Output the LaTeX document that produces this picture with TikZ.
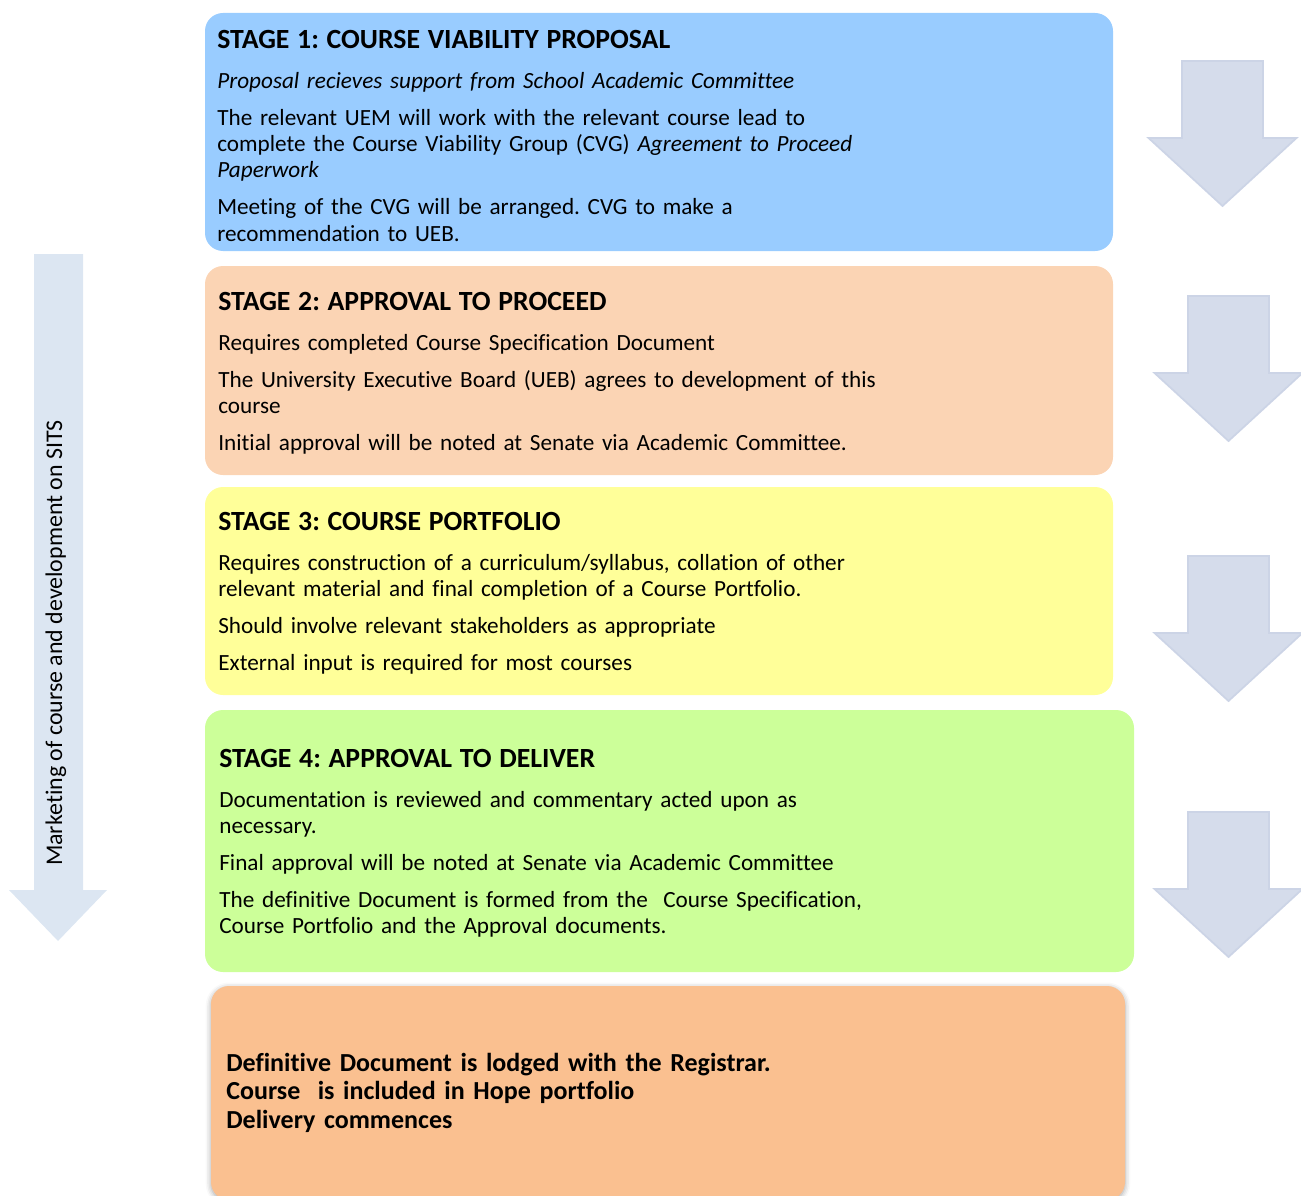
\documentclass[tikz,border=0pt]{standalone}
\usepackage{fontspec}
\setmainfont[Ligatures=CommonOff]{Carlito}
\usetikzlibrary{shadows.blur}

\definecolor{stageblue}{HTML}{99CCFF}
\definecolor{stagepeach}{HTML}{FBD4B4}
\definecolor{stageyellow}{HTML}{FFFF99}
\definecolor{stagegreen}{HTML}{CCFF99}
\definecolor{stageorange}{HTML}{FAC090}
\definecolor{flowarrow}{HTML}{D5DCEB}
\definecolor{flowedge}{HTML}{CCD4E6}
\definecolor{sidearrow}{HTML}{DCE6F2}

\frenchspacing
\newcommand{\stagehead}[1]{{\fontsize{15.8}{15}\selectfont\bfseries #1}\par\vspace{7.7pt}}
\newcommand{\stagegap}{\par\vspace{6pt}}

\tikzset{
	stagebox/.style={rounded corners=0.36cm},
	stagetext/.style={anchor=base west,inner sep=0pt,text width=18cm,align=left,
		font=\fontsize{13.2}{15}\selectfont},
	flowarrowstyle/.style={fill=flowarrow,draw=flowedge,line width=1pt,line join=miter}
}

\begin{document}
\begin{tikzpicture}[x=0.02cm,y=-0.02cm]
	\useasboundingbox (0,0) rectangle (1301,1196);

	\fill[stagebox,fill=stageblue] (205,13) rectangle (1113,251);
	\fill[stagebox,fill=stagepeach] (205,266) rectangle (1113,475);
	\fill[stagebox,fill=stageyellow] (205,487) rectangle (1113,695);
	\fill[stagebox,fill=stagegreen] (205,710) rectangle (1134,972);
	\fill[stagebox,fill=stageorange,blur shadow={shadow xshift=0pt,shadow yshift=-1pt,
		shadow blur radius=3pt,shadow opacity=35}] (211,986) rectangle (1125,1200);

	\node[stagetext] (stage1) at (217,48.5) {\stagehead{STAGE 1: COURSE VIABILITY PROPOSAL}
		\textit{Proposal recieves support from School Academic Committee}\stagegap
		The relevant UEM will work with the relevant course lead to\\
		complete the Course Viability Group (CVG) \textit{Agreement to Proceed}\\
		\textit{Paperwork}\stagegap
		Meeting of the CVG will be arranged. CVG to make a\\
		recommendation to UEB.};

	\node[stagetext] (stage2) at (218,310.5) {\stagehead{STAGE 2: APPROVAL TO PROCEED}
		Requires completed Course Specification Document\stagegap
		The University Executive Board (UEB) agrees to development of this\\
		course\stagegap
		Initial approval will be noted at Senate via Academic Committee.};

	\node[stagetext] (stage3) at (218,530.5) {\stagehead{STAGE 3: COURSE PORTFOLIO}
		Requires construction of a curriculum/syllabus, collation of other\\
		relevant material and final completion of a Course Portfolio.\stagegap
		Should involve relevant stakeholders as appropriate\stagegap
		External input is required for most courses};

	\node[stagetext] (stage4) at (219,767.5) {\stagehead{STAGE 4: APPROVAL TO DELIVER}
		Documentation is reviewed and commentary acted upon as\\
		necessary.\stagegap
		Final approval will be noted at Senate via Academic Committee\stagegap
		The definitive Document is formed from the\ \ Course Specification,\\
		Course Portfolio and the Approval documents.};

	\node[stagetext,font=\fontsize{14.8}{16.4}\selectfont\bfseries] (final) at (226,1071)
		{Definitive Document is lodged with the Registrar.\\
		Course\ \ is included in Hope portfolio\\
		Delivery commences};

	\foreach \cx/\ty in {1222.5/61,1228.5/296,1228.5/556,1228.5/812}
		\draw[flowarrowstyle] (\cx-40.5,\ty) -- (\cx+40.5,\ty) -- (\cx+40.5,\ty+77)
			-- (\cx+74,\ty+77) -- (\cx,\ty+145) -- (\cx-74,\ty+77) -- (\cx-40.5,\ty+77) -- cycle;

	\fill[sidearrow] (34,254) -- (83,254) -- (83,890) -- (107,890) -- (58,941)
		-- (9,890) -- (34,890) -- cycle;
	\node[rotate=90,font=\fontsize{13.6}{15}\selectfont] (sits) at (56,643)
		{Marketing of course and development on SITS};
\end{tikzpicture}
\end{document}
